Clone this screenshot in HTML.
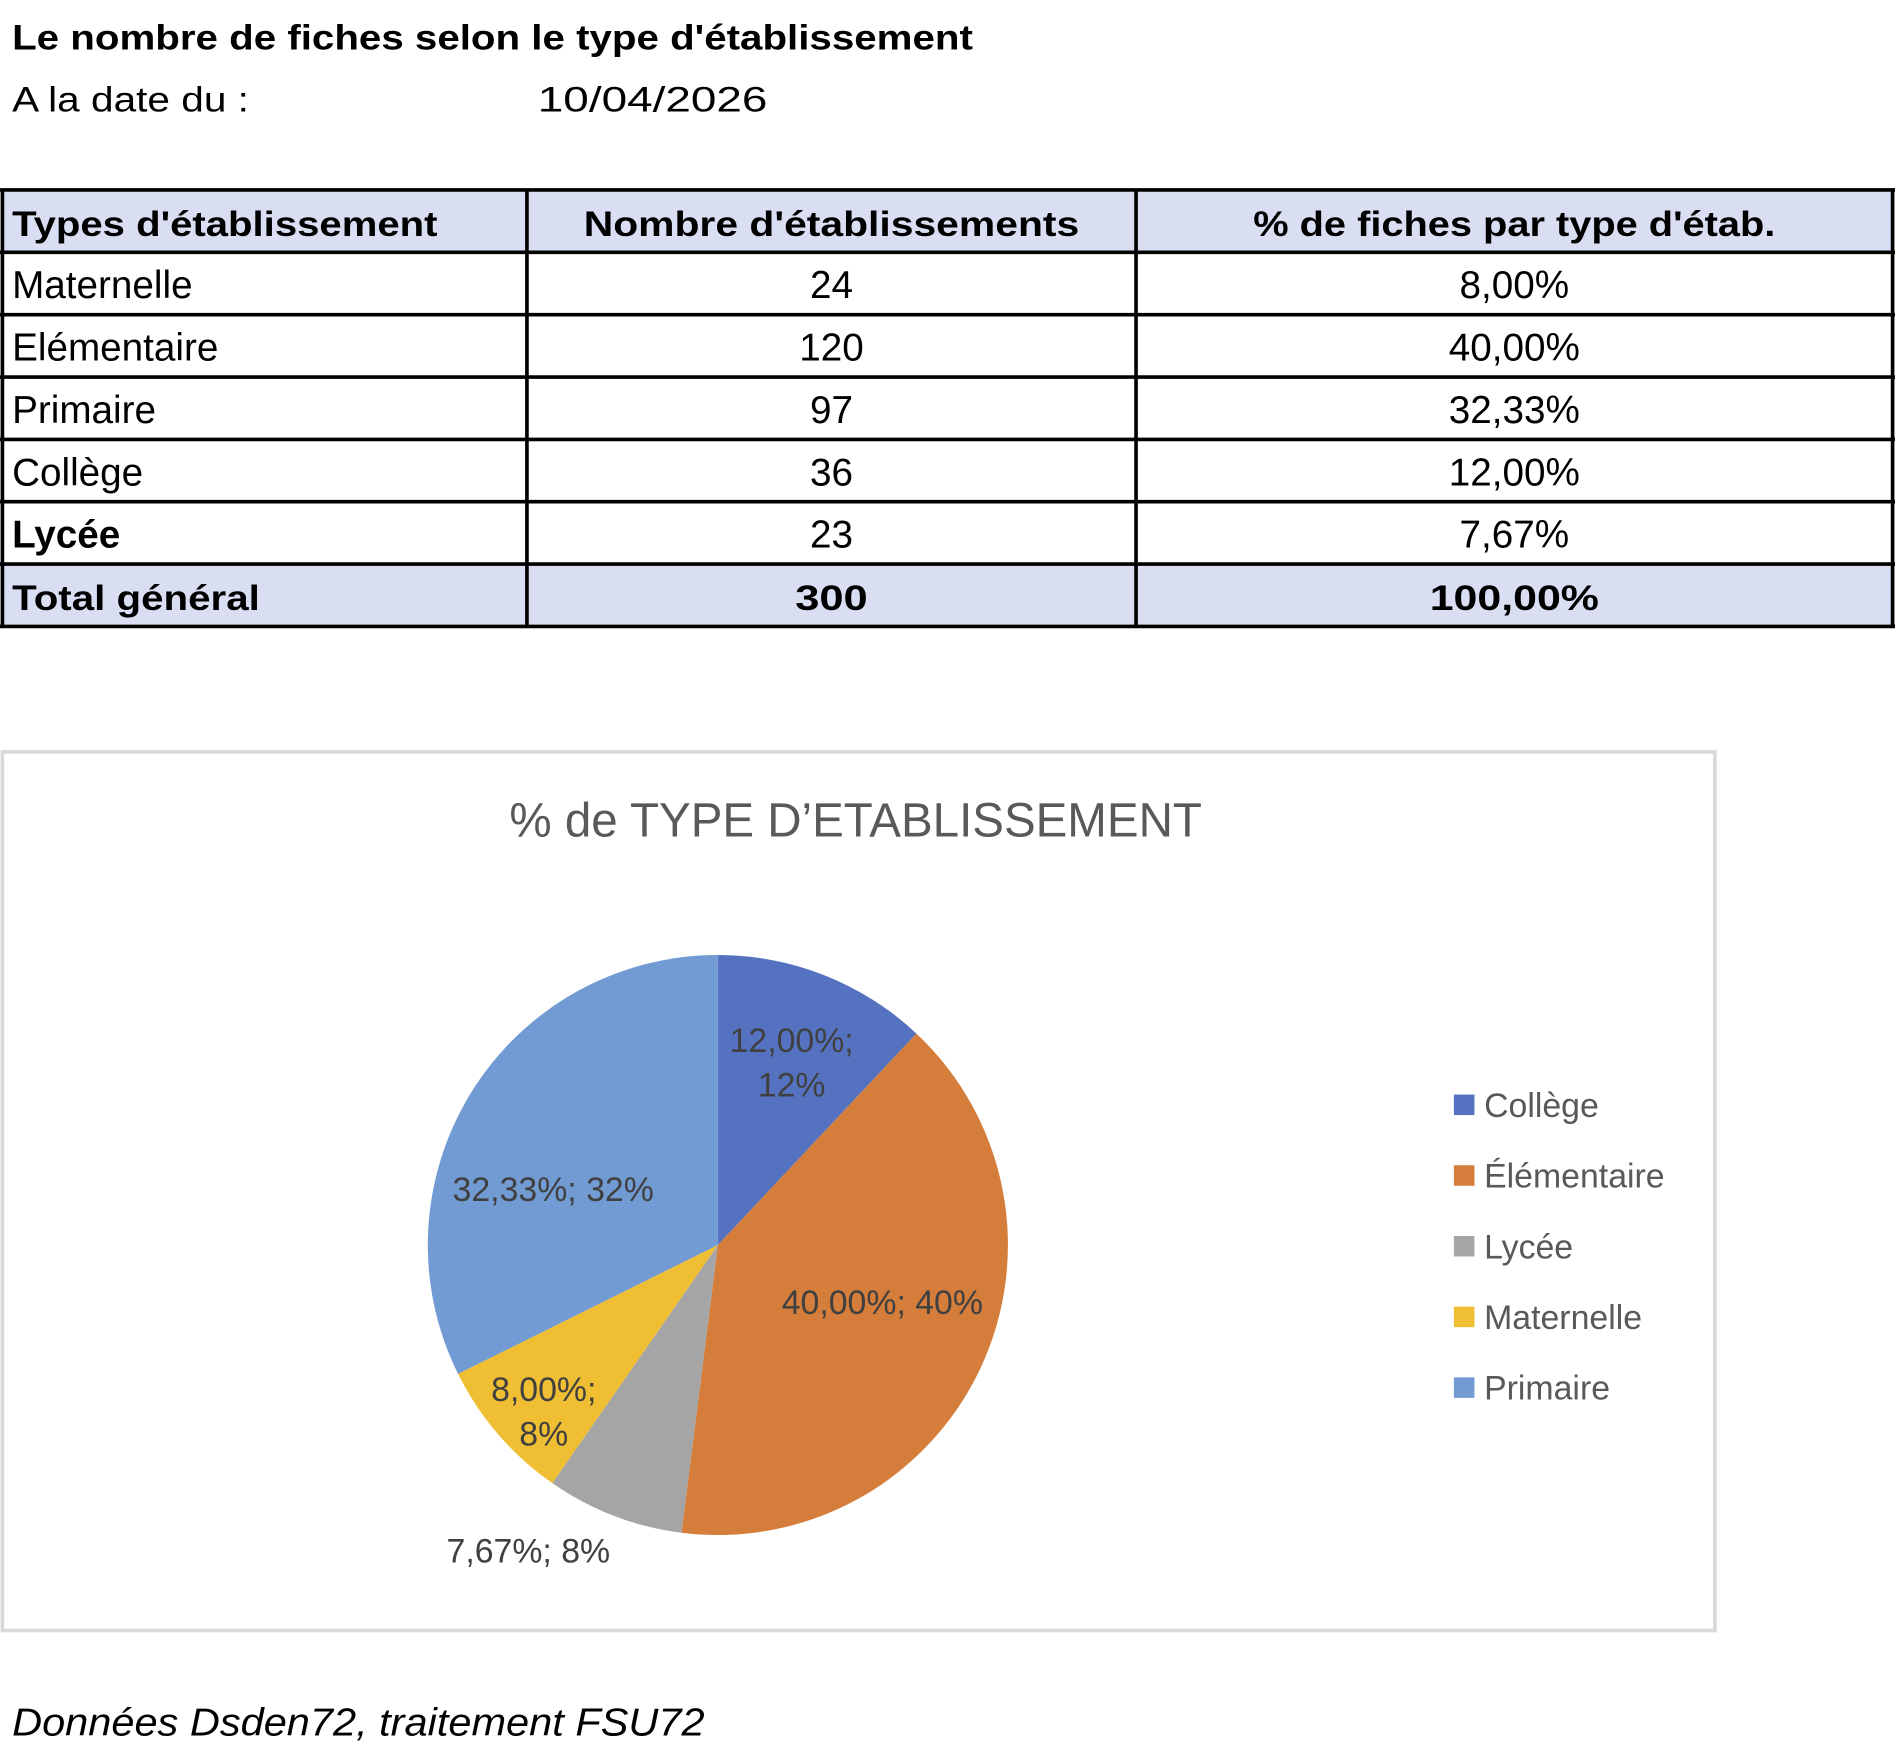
<!DOCTYPE html>
<html><head><meta charset="utf-8"><style>
html,body{margin:0;padding:0;background:#fff}
svg{display:block}
text{font-family:"Liberation Sans",sans-serif}
</style></head><body>
<svg width="1895" height="1754" viewBox="0 0 1568 1451" xmlns="http://www.w3.org/2000/svg">
<text x="10" y="41" font-size="29" font-weight="bold" textLength="795" lengthAdjust="spacingAndGlyphs">Le nombre de fiches selon le type d'établissement</text>
<text x="10" y="92" font-size="29" textLength="196" lengthAdjust="spacingAndGlyphs">A la date du :</text>
<text x="445" y="92" font-size="29" textLength="190" lengthAdjust="spacingAndGlyphs">10/04/2026</text>
<g id="table"></g>
<rect x="2" y="622" width="1417" height="727" fill="#fff" stroke="#d9d9d9" stroke-width="3"/>
<text x="708" y="692" font-size="40" fill="#595959" text-anchor="middle" textLength="573" lengthAdjust="spacingAndGlyphs">% de TYPE D’ETABLISSEMENT</text>
<g id="pie"></g>
<g id="legend"></g>
<text x="10" y="1436" font-size="32" font-style="italic" textLength="573" lengthAdjust="spacingAndGlyphs">Données Dsden72, traitement FSU72</text>
</svg>
<script>
const tableTypes=["Maternelle","Elémentaire","Primaire","Collège","Lycée"];
const tableCounts=[24,120,97,36,23];
const tablePcts=["8,00%","40,00%","32,33%","12,00%","7,67%"];
const pieCategories=["Collège","Élémentaire","Lycée","Maternelle","Primaire"];
const pieValues=[12.00,40.00,7.67,8.00,32.33];
const pieLabels=[["12,00%;","12%"],["40,00%; 40%"],["7,67%; 8%"],["8,00%;","8%"],["32,33%; 32%"]];
const pieColors=["#5572c0","#d57d3a","#a5a5a5","#f0be32","#729bd3"];
(function(){
const NS="http://www.w3.org/2000/svg";
function mk(tag,attrs,parent,txt){const e=document.createElementNS(NS,tag);for(const k in attrs)e.setAttribute(k,attrs[k]);if(txt!==undefined)e.textContent=txt;parent.appendChild(e);return e;}
const tg=document.getElementById('table');
const cols=[2,436,940,1566],tableTop=157,rh=51.6;
const rows=[["Types d'établissement","Nombre d'établissements","% de fiches par type d'étab.",true,true]];
tableTypes.forEach((t,i)=>rows.push([t,String(tableCounts[i]),tablePcts[i],false,false]));
rows.push(["Total général",String(tableCounts.reduce((a,b)=>a+b,0)),"100,00%",true,true]);
const widths={0:[352,410,432],6:[205,60,140]};
rows.forEach((r,i)=>{
  const y=tableTop+i*rh;
  if(r[4]){const bg=mk('rect',{x:cols[0],y:y,width:cols[3]-cols[0],height:rh,fill:'#d9def3'},tg);
    
    }
  const bold=r[3]||r[0]==="Lycée";
  const w=widths[i];
  const fs=r[3]?29:32;
  const a=mk('text',{x:10,y:y+38,'font-size':fs,'font-weight':bold?'bold':'normal'},tg,r[0]);
  if(w){a.setAttribute('textLength',w[0]);a.setAttribute('lengthAdjust','spacingAndGlyphs');}
  
  
  const b=mk('text',{x:688,y:y+38,'font-size':fs,'text-anchor':'middle','font-weight':r[3]?'bold':'normal'},tg,r[1]);
  if(w){b.setAttribute('textLength',w[1]);b.setAttribute('lengthAdjust','spacingAndGlyphs');}
  
  
  const c=mk('text',{x:1253,y:y+38,'font-size':fs,'text-anchor':'middle','font-weight':r[3]?'bold':'normal'},tg,r[2]);
  if(w){c.setAttribute('textLength',w[2]);c.setAttribute('lengthAdjust','spacingAndGlyphs');}
  
  
});
for(let i=0;i<=rows.length;i++){const l=mk('line',{x1:0,x2:1568,y1:tableTop+i*rh,y2:tableTop+i*rh,stroke:'#000','stroke-width':3},tg);
  
  }
cols.forEach(x=>{const l=mk('line',{x1:x,x2:x,y1:tableTop,y2:tableTop+rows.length*rh,stroke:'#000','stroke-width':3},tg);
  
  });
const pg=document.getElementById('pie');
const cx=594,cy=1030,R=240,total=pieValues.reduce((a,b)=>a+b,0);
function pt(frac,r){const ang=frac*2*Math.PI;return [cx+r*Math.sin(ang),cy-r*Math.cos(ang)];}
// label placement style: [angle offset (fraction of turn), radius factor]
const labelStyle=[[0.001,0.68],[-0.017,0.6],[0.03,1.24],[-0.008,0.83],[-0.036,0.6]];
let acc=0;
pieValues.forEach((v,i)=>{
  const s=acc/total,e=(acc+v)/total;acc+=v;
  const p0=pt(s,R),p1=pt(e,R),large=(e-s)>0.5?1:0;
  const sl=mk('path',{d:`M${cx},${cy}L${p0[0]},${p0[1]}A${R},${R} 0 ${large} 1 ${p1[0]},${p1[1]}Z`,fill:pieColors[i]},pg);
  
  
  const mid=(s+e)/2+labelStyle[i][0];
  const lp=pt(mid,R*labelStyle[i][1]);
  const lines=pieLabels[i];
  lines.forEach((ln,j)=>{
    const y=lp[1]+(j-(lines.length-1)/2)*37+10;
    const t=mk('text',{x:lp[0],y:y,'font-size':28,fill:'#404040','text-anchor':'middle'},pg,ln);
    
    
  });
});
const lg=document.getElementById('legend');
pieCategories.forEach((c,i)=>{
  const y=914+i*58.5;
  const sw=mk('rect',{x:1203,y:y-8.5,width:17,height:17,fill:pieColors[i]},lg);
  
  
  const t=mk('text',{x:1228,y:y+10,'font-size':28,fill:'#595959'},lg,c);
  
  
});
})();
</script>
</body></html>
